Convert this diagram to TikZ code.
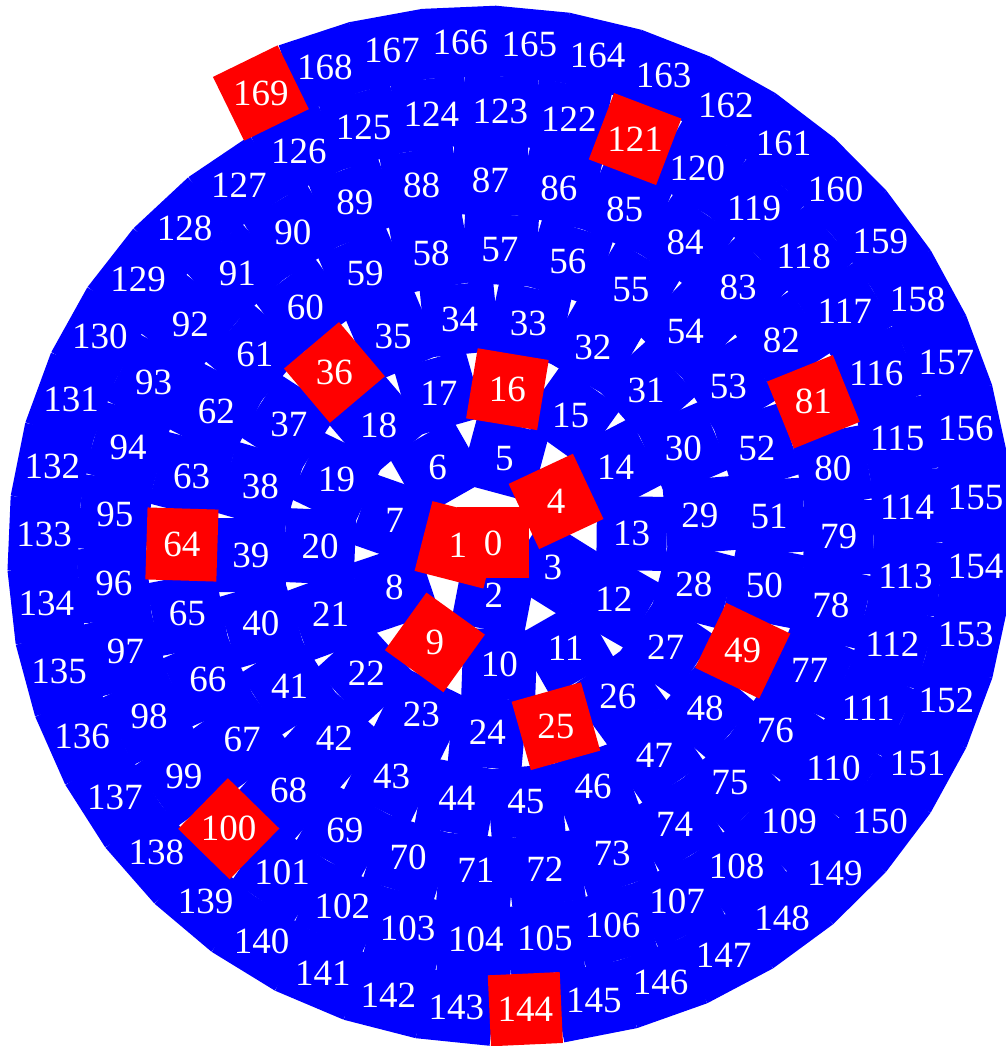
\documentclass[tikz,border=0pt]{standalone}
\usepackage{fontspec}
\setmainfont{Liberation Serif}
\definecolor{cellblue}{RGB}{0,0,255}
\definecolor{cellred}{RGB}{255,0,0}
\newcommand\spA{11}
\newcommand\spNewton{%
  \pgfmathsetmacro\spSq{sqrt(1+\spPhi*\spPhi)}%
  \pgfmathsetmacro\spPhi{\spPhi-(\spPhi*\spSq+ln(\spPhi+\spSq)-\spTgt)/(2*\spSq)}}
\newcommand\spiralAt[1]{%
  \pgfmathsetmacro\spTgt{4*pi*#1}%
  \pgfmathsetmacro\spPhi{sqrt(\spTgt)}%
  \spNewton\spNewton\spNewton\spNewton
  \pgfmathsetmacro\spAng{mod(\spPhi*180/pi,360)}%
  \pgfmathsetmacro\spRad{\spA*\spPhi}%
  \pgfmathsetmacro\spRot{\spAng+atan(\spPhi)}}
\begin{document}
\begin{tikzpicture}[
  cellsq/.style={shape=rectangle, inner sep=0pt, outer sep=0pt, minimum width=74pt, minimum height=70pt, draw=none},
  redsq/.style={shape=rectangle, inner sep=0pt, outer sep=0pt, minimum width=72pt, minimum height=71pt, draw=none, fill=cellred},
  numlbl/.style={text=white, inner sep=0pt, font=\fontsize{37}{37}\selectfont}]
\fill[white] (-493pt,-503pt) rectangle (512pt,543pt);
\useasboundingbox (-493pt,-503pt) rectangle (512pt,543pt);
% blue cells along the Archimedean spiral (perfect squares are left for the red cells)
\foreach \n in {0,...,169}{
  \spiralAt{\n}
  \pgfmathtruncatemacro\spRoot{round(sqrt(\n))}
  \ifnum\numexpr\spRoot*\spRoot\relax=\n\relax
    \def\spFill{none}\else\def\spFill{cellblue}\fi
  \node[cellsq, fill=\spFill, rotate=\spRot] (cell\n) at (\spAng:\spRad pt) {};
}
% red cells for perfect squares
\foreach \k in {0,...,13}{
  \pgfmathtruncatemacro\spM{\k*\k}
  \spiralAt{\spM}
  \node[redsq, rotate=\spRot] (sq\k) at (cell\spM.center) {};
}
% numbers
\foreach \n in {0,...,169}{
  \node[numlbl] (lab\n) at (cell\n.center) {\n};
}
\end{tikzpicture}
\end{document}
